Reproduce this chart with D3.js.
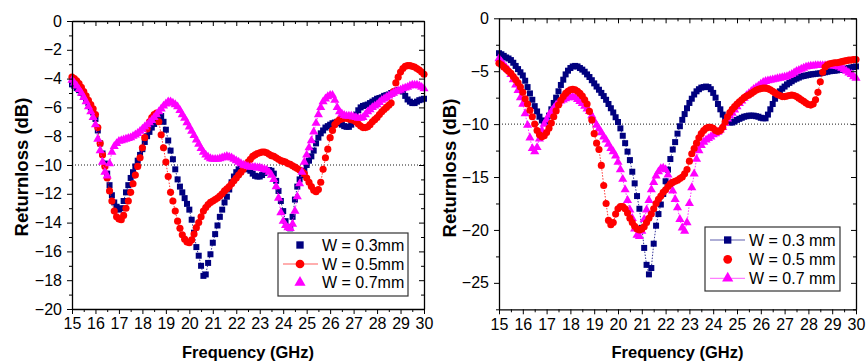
<!DOCTYPE html>
<html>
<head>
<meta charset="utf-8">
<script src="https://cdn.jsdelivr.net/npm/d3@7"></script>
<style>
  body { margin: 0; background: #fff; }
  svg { display: block; }
  text { font-family: "Liberation Sans", Arial, sans-serif; fill: #000; }
</style>
</head>
<body>
<svg id="chart" width="867" height="362"></svg>
<script>
// Frequency sweep: 15 to 30 GHz in 0.1 GHz steps
const FREQ = d3.range(150 + 1).map(i => +(15 + i * 0.1).toFixed(1));
const X_TICKS = [15,16,17,18,19,20,21,22,23,24,25,26,27,28,29,30];

// Panel (a): return loss (dB) for three widths
const A_LABELS = ["W = 0.3mm", "W = 0.5mm", "W = 0.7mm"];
const A_W03 = [
  -4.4,-4.5,-4.65,-4.8,-5.0,-5.2,-5.45,-5.7,-6.0,-6.35,
  -6.8,-7.6,-8.5,-9.2,-9.9,-10.6,-11.4,-12.1,-12.6,-12.9,
  -13.1,-13.0,-12.5,-11.9,-11.4,-10.9,-10.5,-10.1,-9.7,-9.3,
  -8.9,-8.4,-8.0,-7.7,-7.4,-7.15,-6.9,-6.7,-6.6,-7.0,
  -7.55,-8.3,-9.0,-9.6,-10.3,-11.0,-11.5,-11.9,-12.3,-12.7,
  -13.1,-13.8,-14.7,-15.7,-16.3,-17.0,-17.7,-17.6,-16.8,-16.2,
  -15.4,-14.8,-14.2,-13.6,-13.1,-12.6,-12.2,-11.7,-11.2,-10.8,
  -10.5,-10.3,-10.2,-10.2,-10.2,-10.3,-10.4,-10.6,-10.75,-10.8,
  -10.8,-10.7,-10.55,-10.4,-10.35,-10.4,-10.6,-11.1,-11.8,-12.5,
  -13.2,-13.9,-14.3,-14.4,-13.6,-12.4,-11.5,-11.0,-10.7,-10.4,
  -10.0,-9.7,-9.4,-9.0,-8.5,-8.1,-7.8,-7.6,-7.4,-7.3,
  -7.2,-7.1,-7.05,-7.0,-7.1,-7.2,-7.3,-7.35,-7.35,-7.2,
  -6.9,-6.5,-6.2,-6.0,-5.9,-5.85,-5.8,-5.7,-5.6,-5.5,
  -5.4,-5.35,-5.3,-5.2,-5.15,-5.1,-5.0,-4.95,-4.85,-4.8,
  -4.8,-4.9,-5.2,-5.45,-5.6,-5.7,-5.7,-5.6,-5.5,-5.45,
  -5.4
];
const A_W05 = [
  -3.9,-4.0,-4.15,-4.35,-4.6,-4.9,-5.2,-5.5,-5.8,-6.1,
  -6.5,-7.4,-8.5,-9.3,-10.1,-10.9,-11.8,-12.5,-13.2,-13.6,
  -13.75,-13.8,-13.5,-13.0,-12.5,-11.9,-11.3,-10.7,-10.1,-9.5,
  -8.8,-8.1,-7.5,-7.0,-6.7,-6.5,-6.4,-7.0,-7.9,-8.8,
  -9.8,-10.8,-11.9,-12.5,-13.2,-13.9,-14.4,-14.85,-15.15,-15.35,
  -15.4,-15.2,-14.8,-14.35,-14.0,-13.6,-13.2,-12.95,-12.75,-12.6,
  -12.5,-12.4,-12.3,-12.15,-12.0,-11.8,-11.65,-11.5,-11.3,-11.1,
  -10.9,-10.7,-10.5,-10.3,-10.0,-9.8,-9.6,-9.4,-9.3,-9.2,
  -9.15,-9.1,-9.1,-9.15,-9.25,-9.35,-9.4,-9.5,-9.6,-9.7,
  -9.75,-9.8,-9.9,-9.95,-10.05,-10.15,-10.25,-10.35,-10.45,-10.6,
  -10.9,-11.2,-11.5,-11.75,-11.85,-11.7,-11.2,-10.3,-9.5,-8.9,
  -8.1,-7.6,-7.2,-7.0,-6.85,-6.8,-6.75,-6.75,-6.8,-6.85,
  -6.9,-7.0,-7.15,-7.3,-7.4,-7.4,-7.35,-7.2,-7.0,-6.85,
  -6.7,-6.5,-6.3,-6.15,-6.0,-5.85,-5.7,-4.9,-4.3,-3.9,
  -3.55,-3.3,-3.15,-3.1,-3.1,-3.15,-3.2,-3.3,-3.4,-3.55,
  -3.7
];
const A_W07 = [
  -4.1,-4.3,-4.5,-4.75,-5.0,-5.3,-5.6,-5.95,-6.3,-6.7,
  -7.2,-8.2,-9.0,-9.8,-10.5,-10.75,-9.9,-9.1,-8.7,-8.5,
  -8.35,-8.3,-8.25,-8.2,-8.15,-8.1,-8.0,-7.9,-7.8,-7.65,
  -7.5,-7.35,-7.2,-7.05,-6.9,-6.7,-6.5,-6.3,-6.1,-5.9,
  -5.75,-5.6,-5.6,-5.7,-5.8,-5.95,-6.2,-6.5,-6.75,-7.05,
  -7.35,-7.65,-7.95,-8.25,-8.55,-8.85,-9.1,-9.3,-9.45,-9.55,
  -9.6,-9.6,-9.6,-9.55,-9.5,-9.45,-9.4,-9.45,-9.5,-9.6,
  -9.7,-9.8,-9.9,-10.0,-10.05,-10.1,-10.15,-10.15,-10.15,-10.2,
  -10.2,-10.25,-10.3,-10.35,-10.5,-10.7,-11.0,-11.5,-12.3,-13.3,
  -13.9,-14.2,-14.35,-14.4,-14.1,-13.2,-12.2,-11.3,-10.5,-9.8,
  -9.3,-8.8,-8.3,-7.7,-7.1,-6.5,-6.0,-5.6,-5.4,-5.25,
  -5.15,-5.15,-5.5,-6.0,-6.3,-6.45,-6.55,-6.6,-6.6,-6.6,
  -6.65,-6.7,-6.75,-6.75,-6.7,-6.5,-6.3,-6.15,-6.0,-5.9,
  -5.8,-5.65,-5.5,-5.4,-5.3,-5.2,-5.1,-5.0,-4.9,-4.85,
  -4.8,-4.7,-4.65,-4.6,-4.5,-4.45,-4.45,-4.45,-4.5,-4.6,
  -4.7
];

// Panel (b): return loss (dB) for three widths
const B_LABELS = ["W = 0.3 mm", "W = 0.5 mm", "W = 0.7 mm"];
const B_W03 = [
  -3.3,-3.4,-3.55,-3.7,-3.8,-3.95,-4.2,-4.5,-4.8,-5.1,
  -5.4,-5.9,-6.5,-7.1,-7.7,-8.3,-8.8,-9.3,-9.65,-9.9,
  -9.7,-9.2,-8.6,-8.0,-7.5,-6.9,-6.3,-5.8,-5.3,-4.95,
  -4.7,-4.55,-4.5,-4.55,-4.7,-4.85,-5.05,-5.3,-5.55,-5.85,
  -6.15,-6.45,-6.75,-7.05,-7.35,-7.7,-8.1,-8.5,-8.9,-9.35,
  -9.8,-10.4,-11.1,-11.8,-12.6,-13.4,-14.5,-15.6,-16.8,-18.0,
  -19.8,-21.7,-23.3,-24.2,-23.6,-21.3,-19.6,-18.5,-17.6,-16.6,
  -15.4,-14.3,-13.3,-12.4,-11.7,-10.9,-10.2,-9.6,-9.05,-8.5,
  -8.0,-7.6,-7.2,-6.9,-6.7,-6.55,-6.5,-6.45,-6.5,-6.7,
  -7.05,-7.5,-8.1,-8.6,-9.1,-9.5,-9.75,-9.85,-9.85,-9.75,
  -9.6,-9.5,-9.4,-9.3,-9.25,-9.2,-9.2,-9.2,-9.25,-9.3,
  -9.4,-9.45,-9.45,-9.1,-8.6,-8.1,-7.6,-7.2,-6.9,-6.65,
  -6.45,-6.25,-6.1,-5.95,-5.8,-5.7,-5.6,-5.5,-5.45,-5.4,
  -5.35,-5.3,-5.28,-5.25,-5.22,-5.2,-5.15,-5.1,-5.05,-5.0,
  -4.97,-4.95,-4.92,-4.88,-4.85,-4.8,-4.75,-4.7,-4.65,-4.6,
  -4.55
];
const B_W05 = [
  -4.25,-4.4,-4.6,-4.8,-5.0,-5.2,-5.5,-5.8,-6.1,-6.5,
  -7.0,-7.6,-8.1,-8.7,-9.3,-10.0,-10.6,-11.0,-11.2,-11.1,
  -10.8,-10.4,-9.9,-9.3,-8.75,-8.2,-7.75,-7.4,-7.1,-6.9,
  -6.75,-6.7,-6.75,-6.9,-7.1,-7.35,-7.7,-8.1,-8.8,-9.6,
  -10.9,-11.8,-12.4,-13.9,-15.8,-17.5,-19.1,-19.5,-19.3,-18.5,
  -18.0,-17.8,-17.8,-18.0,-18.4,-18.9,-19.3,-19.65,-19.9,-20.0,
  -19.9,-19.7,-19.3,-18.9,-18.5,-18.0,-17.5,-17.1,-16.8,-16.45,
  -16.2,-15.9,-15.65,-15.5,-15.4,-15.3,-15.15,-15.0,-14.7,-14.3,
  -13.5,-12.8,-12.3,-11.8,-11.3,-10.9,-10.6,-10.4,-10.3,-10.3,
  -10.4,-10.6,-10.7,-10.6,-10.3,-9.8,-9.3,-8.9,-8.6,-8.35,
  -8.1,-7.9,-7.7,-7.5,-7.35,-7.25,-7.1,-6.95,-6.8,-6.7,
  -6.65,-6.6,-6.6,-6.65,-6.75,-6.9,-7.05,-7.2,-7.3,-7.4,
  -7.4,-7.35,-7.3,-7.25,-7.3,-7.4,-7.55,-7.7,-7.85,-8.0,
  -8.15,-8.2,-8.1,-7.7,-7.0,-6.0,-5.1,-4.6,-4.4,-4.3,
  -4.25,-4.2,-4.2,-4.15,-4.1,-4.05,-4.0,-3.95,-3.95,-3.9,
  -3.9
];
const B_W07 = [
  -3.8,-4.1,-4.4,-4.65,-4.9,-5.3,-5.8,-6.3,-6.8,-7.5,
  -8.1,-9.0,-10.1,-11.3,-12.3,-12.6,-12.2,-11.4,-10.6,-10.0,
  -9.6,-9.15,-8.8,-8.5,-8.2,-8.0,-7.8,-7.7,-7.6,-7.5,
  -7.45,-7.45,-7.5,-7.65,-7.85,-8.05,-8.3,-8.55,-8.8,-9.2,
  -9.7,-10.1,-10.45,-10.8,-11.2,-11.5,-11.9,-12.3,-12.6,-13.0,
  -13.6,-14.3,-15.2,-16.2,-17.2,-18.1,-18.9,-19.9,-20.5,-20.6,
  -20.1,-19.0,-18.1,-17.2,-16.2,-15.5,-14.9,-14.5,-14.2,-14.15,
  -14.3,-14.8,-15.6,-16.3,-17.1,-17.9,-19.0,-19.8,-20.1,-19.3,
  -17.5,-16.0,-14.7,-13.3,-12.5,-12.0,-11.7,-11.5,-11.35,-11.2,
  -11.0,-10.9,-10.75,-10.55,-10.3,-9.9,-9.5,-9.2,-8.95,-8.65,
  -8.35,-8.05,-7.8,-7.55,-7.3,-7.1,-6.9,-6.7,-6.55,-6.4,
  -6.2,-6.05,-5.95,-5.9,-5.85,-5.8,-5.75,-5.7,-5.65,-5.6,
  -5.55,-5.5,-5.4,-5.3,-5.15,-5.0,-4.9,-4.8,-4.7,-4.6,
  -4.55,-4.5,-4.5,-4.45,-4.45,-4.45,-4.45,-4.45,-4.45,-4.45,
  -4.5,-4.5,-4.55,-4.6,-4.7,-4.85,-5.0,-5.15,-5.3,-5.5,
  -5.65
];

const COLORS = ["#00007f", "#ff0000", "#ff00ff"];
const SYMBOLS = [d3.symbolSquare, d3.symbolCircle, d3.symbolTriangle];
const SYMBOL_SIZES = [36, 40, 36];

const svg = d3.select("#chart");

function drawPanel(cfg) {
  const g = svg.append("g");
  const x = d3.scaleLinear().domain([15, 30]).range([cfg.left, cfg.right]);
  const y = d3.scaleLinear().domain(cfg.yDomain).range([cfg.bottom, cfg.top]);

  // -10 dB reference line
  g.append("line")
    .attr("x1", x(15)).attr("x2", x(30))
    .attr("y1", y(-10)).attr("y2", y(-10))
    .attr("stroke", "#000").attr("stroke-width", 0.9)
    .attr("stroke-dasharray", "1,2");

  // series: thin dotted connector + markers
  cfg.order.forEach(k => {
    const vals = cfg.series[k];
    const pts = FREQ.map((f, i) => [f, vals[i]]);
    g.append("path")
      .datum(pts)
      .attr("fill", "none")
      .attr("stroke", COLORS[k])
      .attr("stroke-width", 0.8)
      .attr("stroke-dasharray", "1.5,1.5")
      .attr("d", d3.line().x(d => x(d[0])).y(d => y(d[1])));
    const sym = d3.symbol().type(SYMBOLS[k]).size(SYMBOL_SIZES[k]);
    g.append("g").selectAll("path")
      .data(pts)
      .join("path")
      .attr("transform", d => `translate(${x(d[0])},${y(d[1])})`)
      .attr("d", sym)
      .attr("fill", COLORS[k]);
  });

  // axes
  const minorX = d3.range(15.5, 30, 1);
  const styleAxis = sel => {
    sel.selectAll(".domain").attr("stroke", "#000").attr("stroke-width", 1.3);
    sel.selectAll(".tick line").attr("stroke", "#000").attr("stroke-width", 1);
    sel.selectAll("text").style("font-family", '"Liberation Sans", Arial, sans-serif')
      .style("font-size", "16px").attr("fill", "#000");
  };

  g.append("g").attr("transform", `translate(0,${cfg.bottom})`)
    .call(d3.axisBottom(x).tickValues(X_TICKS).tickSize(5).tickSizeOuter(0).tickPadding(4).tickFormat(d3.format("d")))
    .call(styleAxis);
  g.append("g").attr("transform", `translate(0,${cfg.bottom})`)
    .call(d3.axisBottom(x).tickValues(minorX).tickSize(3).tickFormat(""))
    .call(s => s.select(".domain").remove()).call(styleAxis);

  g.append("g").attr("transform", `translate(0,${cfg.top})`)
    .call(d3.axisTop(x).tickValues(X_TICKS).tickSize(-5).tickSizeOuter(0).tickFormat(""))
    .call(styleAxis);
  g.append("g").attr("transform", `translate(0,${cfg.top})`)
    .call(d3.axisTop(x).tickValues(minorX).tickSize(-3).tickFormat(""))
    .call(s => s.select(".domain").remove()).call(styleAxis);

  g.append("g").attr("transform", `translate(${cfg.left},0)`)
    .call(d3.axisLeft(y).tickValues(cfg.yMajor).tickSize(5).tickSizeOuter(0).tickPadding(5).tickFormat(d3.format("d")))
    .call(styleAxis);
  g.append("g").attr("transform", `translate(${cfg.left},0)`)
    .call(d3.axisLeft(y).tickValues(cfg.yMinor).tickSize(3).tickFormat(""))
    .call(s => s.select(".domain").remove()).call(styleAxis);

  g.append("g").attr("transform", `translate(${cfg.right},0)`)
    .call(d3.axisRight(y).tickValues(cfg.yMajor).tickSize(-5).tickSizeOuter(0).tickFormat(""))
    .call(styleAxis);
  g.append("g").attr("transform", `translate(${cfg.right},0)`)
    .call(d3.axisRight(y).tickValues(cfg.yMinor).tickSize(-3).tickFormat(""))
    .call(s => s.select(".domain").remove()).call(styleAxis);

  // axis titles
  g.append("text")
    .attr("x", (cfg.left + cfg.right) / 2).attr("y", 358)
    .attr("text-anchor", "middle")
    .style("font-size", "16.5px").style("font-weight", "bold")
    .text("Frequency (GHz)");
  g.append("text")
    .attr("transform", `translate(${cfg.ylabX},${cfg.ylabY}) rotate(-90)`)
    .attr("text-anchor", "middle").attr("dy", "0.35em")
    .style("font-size", cfg.ylabSize).style("font-weight", "bold")
    .text("Returnloss (dB)");

  // legend
  const L = cfg.legend;
  const lg = g.append("g");
  lg.append("rect")
    .attr("x", L.x).attr("y", L.y).attr("width", L.w).attr("height", L.h)
    .attr("fill", "#fff").attr("stroke", "#333").attr("stroke-width", 1.2);
  cfg.labels.forEach((lab, k) => {
    const cy = L.y + L.rows[k];
    if (L.lines[k]) {
      lg.append("line")
        .attr("x1", L.x + L.lineX0).attr("x2", L.x + L.lineX1)
        .attr("y1", cy).attr("y2", cy)
        .attr("stroke", COLORS[k]).attr("stroke-width", 0.9).attr("opacity", 0.7);
    }
    lg.append("path")
      .attr("transform", `translate(${L.x + L.symX},${cy})`)
      .attr("d", d3.symbol().type(SYMBOLS[k]).size(SYMBOL_SIZES[k] * 1.5)())
      .attr("fill", COLORS[k]);
    lg.append("text")
      .attr("x", L.x + L.textX).attr("y", cy).attr("dy", "0.36em")
      .style("font-size", "16px")
      .text(lab);
  });
}

drawPanel({
  left: 72, right: 424, top: 21, bottom: 309,
  yDomain: [-20, 0],
  yMajor: d3.range(-20, 0.1, 2),
  yMinor: d3.range(-19, 0, 2),
  series: [A_W03, A_W05, A_W07],
  order: [0, 1, 2],
  labels: A_LABELS,
  ylabX: 22, ylabY: 167, ylabSize: "18.5px",
  legend: { x: 278, y: 233, w: 130, h: 63, rows: [12, 31, 49.5],
            symX: 22, lineX0: 5, lineX1: 40, textX: 44, lines: [false, true, false] }
});

drawPanel({
  left: 499, right: 856, top: 18.3, bottom: 309.3,
  yDomain: [-27.5, 0],
  yMajor: d3.range(-25, 0.1, 5),
  yMinor: d3.range(-27.5, 0, 5),
  series: [B_W03, B_W05, B_W07],
  order: [0, 2, 1],
  labels: B_LABELS,
  ylabX: 450, ylabY: 168, ylabSize: "18.5px",
  legend: { x: 705, y: 227, w: 135, h: 64, rows: [13, 32.3, 51.3],
            symX: 22.7, lineX0: 5, lineX1: 40, textX: 44, lines: [true, false, true] }
});
</script>
</body>
</html>
